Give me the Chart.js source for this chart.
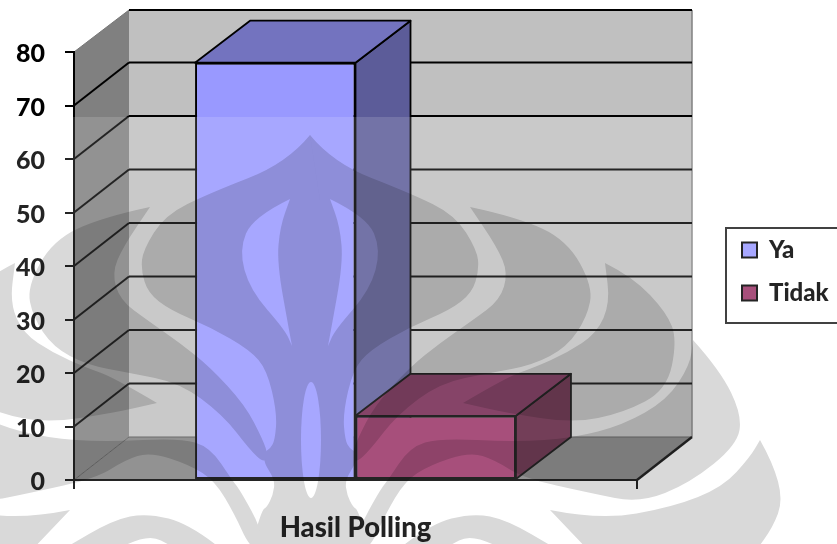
<!DOCTYPE html>
<html>
<head>
<meta charset="utf-8">
<title>Hasil Polling</title>
<script src="https://cdn.jsdelivr.net/npm/chart.js@4"></script>
<style>
  html, body { margin: 0; padding: 0; background: #fff; overflow: hidden; }
  canvas { display: block; }
</style>
</head>
<body>
<canvas id="pollChart" width="837" height="544"></canvas>
<script>
const categories = ['Hasil Polling'];
const seriesNames = ['Ya', 'Tidak'];
const yaValues = [78];
const tidakValues = [12];
const seriesColors = ['#9999ff', '#993366'];
const topColors = ['#7373bf', '#732650'];
const sideColors = ['#5c5c99', '#5c1f3d'];

// 3d look of the plot: how far the back wall sits from the axes
const wallDx = 55;
const wallDy = 43;
const barDy = 42;

function quad(ctx, a, b, c, d, fill) {
    ctx.beginPath();
    ctx.moveTo(a[0], a[1]);
    ctx.lineTo(b[0], b[1]);
    ctx.lineTo(c[0], c[1]);
    ctx.lineTo(d[0], d[1]);
    ctx.closePath();
    ctx.fillStyle = fill;
    ctx.fill();
}

function line(ctx, x1, y1, x2, y2, color, width) {
    ctx.beginPath();
    ctx.moveTo(x1, y1);
    ctx.lineTo(x2, y2);
    ctx.strokeStyle = color;
    ctx.lineWidth = width;
    ctx.stroke();
}

const walls = {
    id: 'walls',
    beforeDraw(chart) {
        const ctx = chart.ctx;
        const a = chart.chartArea;
        ctx.save();
        ctx.fillStyle = '#fff';
        ctx.fillRect(0, 0, chart.width, chart.height);
        quad(ctx, [a.left + wallDx, a.top - wallDy + 1], [a.right + wallDx, a.top - wallDy + 1],
            [a.right + wallDx, a.bottom - wallDy], [a.left + wallDx, a.bottom - wallDy], '#c0c0c0');
        quad(ctx, [a.left, a.top], [a.left + wallDx, a.top - wallDy + 1],
            [a.left + wallDx, a.bottom - wallDy], [a.left, a.bottom], '#808080');
        quad(ctx, [a.left, a.bottom], [a.left + wallDx, a.bottom - wallDy],
            [a.right + wallDx, a.bottom - wallDy], [a.right, a.bottom], '#808080');
        line(ctx, a.left, a.top, a.left + wallDx, a.top - wallDy + 1, '#777', 1);
        line(ctx, a.right + wallDx, a.top - wallDy + 1, a.right + wallDx, a.bottom - wallDy, '#808080', 1.5);
        chart.scales.y.ticks.forEach(t => {
            const y = chart.scales.y.getPixelForValue(t.value);
            const thin = t.value === 0;
            const color = thin ? '#555' : '#000';
            const w = thin ? 1 : 2;
            if (t.value !== 80) line(ctx, a.left, y, a.left + wallDx, y - wallDy, color, w);
            line(ctx, a.left + wallDx, y - wallDy + (t.value === 80 ? 1 : 0), a.right + wallDx, y - wallDy + (t.value === 80 ? 1 : 0), color, w);
        });
        ctx.restore();
    },
    beforeDatasetsDraw(chart) {
        const ctx = chart.ctx;
        ctx.save();
        ctx.lineJoin = 'round';
        chart.data.datasets.forEach((ds, i) => {
            const bar = chart.getDatasetMeta(i).data[0];
            const l = bar.x - bar.width / 2;
            const r = bar.x + bar.width / 2;
            const top = bar.y;
            const base = bar.base;
            quad(ctx, [r, top], [r + wallDx, top - barDy], [r + wallDx, base - barDy], [r, base], sideColors[i]);
            ctx.strokeStyle = '#000';
            ctx.lineWidth = 1.8;
            ctx.stroke();
            quad(ctx, [l, top], [l + wallDx, top - barDy], [r + wallDx, top - barDy], [r, top], topColors[i]);
            ctx.strokeStyle = '#000';
            ctx.lineWidth = 1.8;
            ctx.stroke();
        });
        ctx.restore();
    },
    afterDatasetsDraw(chart) {
        const ctx = chart.ctx;
        const a = chart.chartArea;
        ctx.save();
        line(ctx, a.left, a.bottom, a.right, a.bottom, '#000', 2);
        line(ctx, a.right, a.bottom, a.right + wallDx, a.bottom - wallDy, '#000', 2.4);
        ctx.restore();
    }
};

// the legend sits in its own framed box cut off by the right edge
const legendBox = {
    id: 'legendBox',
    afterLayout(chart) {
        const lg = chart.legend;
        lg.left = 723;
        lg.right = 837;
        lg.top = 219;
        lg.bottom = 540;
    },
    afterDraw(chart) {
        const ctx = chart.ctx;
        ctx.save();
        ctx.strokeStyle = '#222';
        ctx.lineWidth = 2;
        ctx.strokeRect(726, 228, 130, 95);
        ctx.restore();
    }
};

// faint university logo laid over the whole page, as in the scanned source
function curve(g, pts) {
    for (let i = 0; i < pts.length - 1; i++) {
        const mx = (pts[i][0] + pts[i + 1][0]) / 2;
        const my = (pts[i][1] + pts[i + 1][1]) / 2;
        g.quadraticCurveTo(pts[i][0], pts[i][1], mx, my);
    }
    g.lineTo(pts[pts.length - 1][0], pts[pts.length - 1][1]);
}

function logoHalf(g) {
    g.beginPath();
    g.moveTo(310, 135);
    curve(g, [[333, 163], [410, 193], [455, 215], [477, 250], [479, 270], [472, 293], [450, 310], [410, 327],
        [370, 350], [353, 370], [343, 413], [345, 440], [350, 449], [356, 452], [356, 463], [345, 480],
        [347, 495], [353, 507], [358, 510], [368, 544], [368, 552]]);
    g.lineTo(300, 552);
    g.lineTo(300, 200);
    g.closePath();
    g.fill();

    g.beginPath();
    g.moveTo(470, 207);
    curve(g, [[517, 217], [567, 240], [593, 287], [587, 317], [567, 347], [533, 365], [490, 373], [440, 383],
        [397, 415], [370, 450], [356, 463], [352, 455], [357, 440], [375, 405], [410, 367], [440, 343],
        [473, 320], [500, 300], [508, 273], [497, 247], [470, 207]]);
    g.closePath();
    g.fill();

    g.beginPath();
    g.moveTo(605, 263);
    curve(g, [[633, 277], [667, 313], [677, 340], [667, 390], [623, 413], [573, 423], [507, 413], [463, 403]]);
    curve(g, [[507, 377], [533, 368], [567, 353], [597, 333], [610, 303], [605, 263]]);
    g.closePath();
    g.fill();

    g.beginPath();
    g.moveTo(693, 340);
    curve(g, [[720, 370], [742, 415], [737, 445], [690, 483], [640, 503], [590, 493], [523, 478], [495, 460],
        [470, 452], [430, 465], [405, 481], [385, 515], [372, 544], [360, 552], [358, 530], [380, 490],
        [388, 480], [410, 447], [440, 438], [515, 442], [573, 438], [623, 425], [667, 400], [690, 365], [693, 340]]);
    g.closePath();
    g.fill();

    g.beginPath();
    g.moveTo(550, 510);
    curve(g, [[600, 520], [673, 507], [723, 487], [750, 457], [760, 440]]);
    curve(g, [[773, 463], [783, 500], [773, 527], [755, 552]]);
    g.lineTo(590, 552);
    g.closePath();
    g.fill();

    g.beginPath();
    g.moveTo(400, 548);
    curve(g, [[430, 524], [473, 513], [507, 520], [555, 548]]);
    g.lineTo(500, 548);
    curve(g, [[473, 533], [445, 548]]);
    g.closePath();
    g.fill();
}

function logoCut(g) {
    g.beginPath();
    g.moveTo(330, 199);
    curve(g, [[367, 217], [381, 250], [370, 290], [335, 330], [328, 346]]);
    curve(g, [[331, 330], [343, 263], [340, 227], [330, 199]]);
    g.closePath();
    g.fill();
}

function makeLogo(w, h) {
    const c = document.createElement('canvas');
    c.width = w;
    c.height = h;
    const g = c.getContext('2d');
    g.fillStyle = '#d9d9d9';
    logoHalf(g);
    g.save();
    g.translate(620, 0);
    g.scale(-1, 1);
    logoHalf(g);
    g.restore();
    g.globalCompositeOperation = 'destination-out';
    g.fillStyle = '#000';
    logoCut(g);
    g.save();
    g.translate(620, 0);
    g.scale(-1, 1);
    logoCut(g);
    g.restore();
    g.beginPath();
    g.ellipse(311, 440, 10, 58, 0, 0, Math.PI * 2);
    g.fill();
    return c;
}

const watermark = {
    id: 'watermark',
    afterDraw(chart) {
        const ctx = chart.ctx;
        ctx.save();
        ctx.fillStyle = 'rgba(255,255,255,0.14)';
        ctx.fillRect(0, 117, chart.width, chart.height - 117);
        ctx.globalCompositeOperation = 'multiply';
        ctx.drawImage(makeLogo(chart.width, chart.height), 0, 0);
        ctx.restore();
    }
};

new Chart(document.getElementById('pollChart').getContext('2d'), {
    type: 'bar',
    data: {
        labels: categories,
        datasets: [{
            label: seriesNames[0],
            data: yaValues,
            backgroundColor: seriesColors[0],
            borderColor: '#000',
            borderWidth: 2,
            borderSkipped: false
        }, {
            label: seriesNames[1],
            data: tidakValues,
            backgroundColor: seriesColors[1],
            borderColor: '#000',
            borderWidth: 2,
            borderSkipped: false
        }]
    },
    options: {
        responsive: false,
        animation: false,
        categoryPercentage: 0.57,
        barPercentage: 1,
        layout: {
            padding: { left: 0, top: 52, right: 200, bottom: 0 }
        },
        plugins: {
            tooltip: { enabled: false },
            legend: {
                position: 'chartArea',
                align: 'start',
                labels: {
                    boxWidth: 15,
                    boxHeight: 15,
                    padding: 19,
                    color: '#000',
                    font: { family: 'Lato', weight: '900', size: 24 }
                }
            }
        },
        scales: {
            x: {
                afterFit(scale) { scale.height = 64; },
                border: { color: '#000', width: 2 },
                grid: { drawOnChartArea: false, color: '#000', lineWidth: 2, tickLength: 9 },
                ticks: { color: '#000', font: { family: 'Lato', weight: '900', size: 27.5 }, padding: 23 }
            },
            y: {
                min: 0,
                max: 80,
                afterFit(scale) { scale.width = 74; },
                border: { color: '#000', width: 2 },
                grid: { drawOnChartArea: false, color: '#000', lineWidth: 2, tickLength: 9 },
                ticks: { stepSize: 10, color: '#000', font: { family: 'Lato', weight: '900', size: 25 }, padding: 20, labelOffset: 2 }
            }
        }
    },
    plugins: [walls, legendBox, watermark]
});
</script>
</body>
</html>
